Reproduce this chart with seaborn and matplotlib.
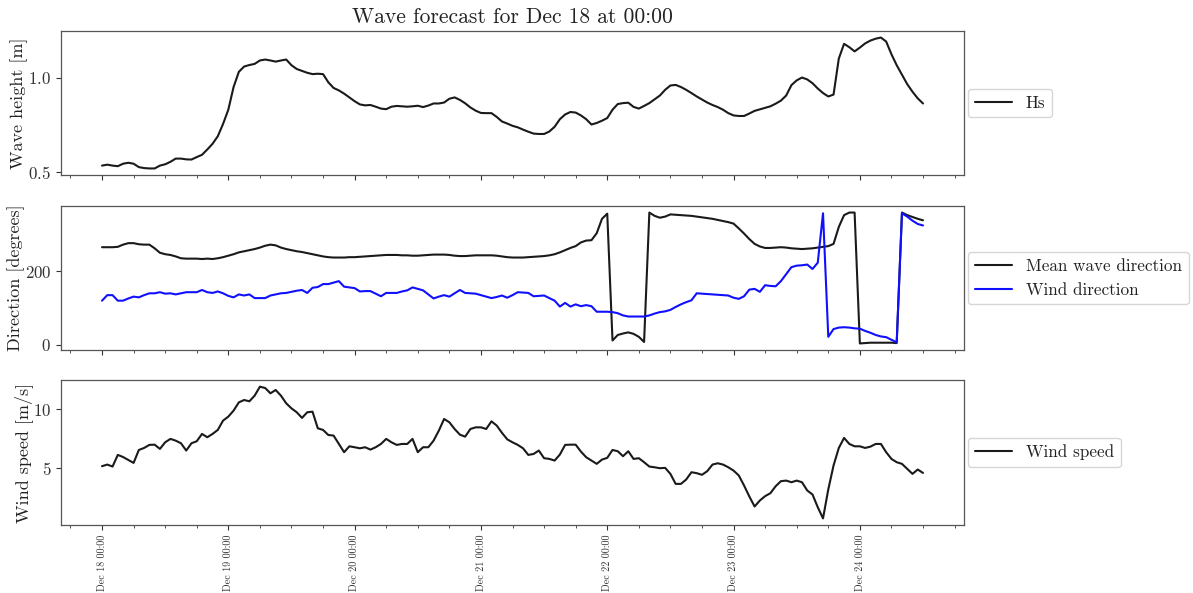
import numpy as np
import pandas as pd
import matplotlib
matplotlib.use("Agg")
import matplotlib.pyplot as plt
import matplotlib.dates as mdates
from matplotlib.ticker import MultipleLocator
import seaborn as sns

# ---------------- data (hourly, Dec 18 00:00 -> Dec 24 12:00) ----------------
start_time = "2023-12-18 00:00"
n_hours = 157

hs = [
    0.535, 0.540, 0.535, 0.532, 0.545, 0.550, 0.545, 0.527, 0.522, 0.520,
    0.520, 0.535, 0.542, 0.555, 0.572, 0.572, 0.568, 0.567, 0.580, 0.592,
    0.620, 0.650, 0.690, 0.755, 0.830, 0.950, 1.030, 1.058, 1.066, 1.072,
    1.090, 1.095, 1.090, 1.084, 1.090, 1.095, 1.065, 1.045, 1.035, 1.025,
    1.018, 1.020, 1.018, 0.975, 0.945, 0.932, 0.915, 0.895, 0.875, 0.858,
    0.853, 0.855, 0.846, 0.836, 0.833, 0.846, 0.850, 0.848, 0.846, 0.848,
    0.851, 0.844, 0.852, 0.863, 0.863, 0.868, 0.888, 0.895, 0.882, 0.864,
    0.842, 0.825, 0.813, 0.812, 0.812, 0.792, 0.768, 0.757, 0.745, 0.737,
    0.725, 0.714, 0.704, 0.702, 0.702, 0.715, 0.740, 0.780, 0.805, 0.818,
    0.815, 0.800, 0.780, 0.752, 0.760, 0.772, 0.786, 0.830, 0.860, 0.865,
    0.867, 0.845, 0.836, 0.850, 0.865, 0.885, 0.905, 0.935, 0.958, 0.961,
    0.950, 0.935, 0.918, 0.900, 0.884, 0.868, 0.855, 0.844, 0.830, 0.812,
    0.800, 0.797, 0.797, 0.810, 0.824, 0.832, 0.840, 0.848, 0.862, 0.878,
    0.905, 0.960, 0.985, 1.000, 0.990, 0.970, 0.942, 0.918, 0.900, 0.910,
    1.100, 1.178, 1.160, 1.138, 1.158, 1.180, 1.195, 1.205, 1.211, 1.190,
    1.123, 1.065, 1.015, 0.965, 0.925, 0.890, 0.863,
]

wave_dir = [
    265, 265, 265, 266, 272, 276, 276, 273, 272, 272,
    262, 250, 246, 244, 240, 235, 234, 234, 234, 233,
    234, 233, 235, 238, 242, 246, 251, 254, 257, 260,
    264, 269, 272, 270, 264, 260, 257, 254, 252, 249,
    246, 243, 240, 238, 237, 237, 237, 238, 238, 239,
    240, 241, 242, 243, 244, 244, 244, 243, 243, 242,
    242, 243, 244, 245, 245, 245, 244, 242, 241, 241,
    242, 243, 243, 243, 243, 242, 240, 238, 237, 237,
    237, 238, 239, 240, 241, 243, 246, 251, 257, 263,
    268, 278, 283, 284, 303, 342, 356, 12, 27, 31,
    34, 30, 22, 8, 359, 350, 345, 348, 354, 353,
    352, 351, 350, 348, 346, 344, 342, 339, 336, 333,
    329, 316, 302, 287, 274, 267, 263, 263, 264, 265,
    264, 262, 261, 260, 261, 262, 264, 266, 268, 274,
    320, 352, 359, 359, 4, 5, 6, 6, 6, 6,
    6, 5, 359, 352, 347, 342, 338,
]

wind_dir = [
    120, 135, 135, 120, 120, 126, 131, 129, 135, 140,
    140, 143, 139, 140, 137, 140, 143, 143, 143, 149,
    143, 141, 145, 140, 133, 129, 137, 134, 137, 127,
    127, 127, 134, 137, 140, 141, 144, 147, 149, 141,
    155, 157, 165, 165, 169, 173, 158, 156, 154, 145,
    146, 146, 139, 132, 141, 141, 141, 145, 148, 156,
    152, 148, 137, 126, 131, 135, 131, 140, 149, 141,
    140, 139, 135, 131, 127, 130, 134, 128, 135, 143,
    142, 141, 132, 133, 134, 127, 120, 104, 114, 104,
    110, 105, 108, 105, 90, 90, 90, 89, 86, 80,
    77, 77, 77, 77, 80, 85, 89, 91, 95, 103,
    110, 116, 121, 140, 139, 138, 137, 136, 135, 134,
    128, 125, 132, 150, 152, 144, 162, 160, 159, 173,
    192, 211, 215, 216, 218, 206, 223, 357, 22, 43,
    47, 48, 47, 45, 44, 38, 33, 27, 23, 21,
    14, 7, 357, 348, 337, 328, 324,
]

wind_speed = [
    5.17, 5.31, 5.14, 6.13, 5.95, 5.70, 5.45, 6.55, 6.72, 6.98,
    7.00, 6.64, 7.20, 7.49, 7.34, 7.12, 6.50, 7.12, 7.29, 7.91,
    7.63, 7.91, 8.25, 9.04, 9.38, 9.89, 10.59, 10.79, 10.68, 11.16,
    11.92, 11.81, 11.36, 11.64, 11.16, 10.51, 10.08, 9.75, 9.27, 9.75,
    9.80, 8.39, 8.25, 7.82, 7.77, 7.06, 6.36, 6.86, 6.78, 6.69,
    6.78, 6.58, 6.78, 7.06, 7.49, 7.20, 6.98, 7.06, 7.06, 7.49,
    6.36, 6.78, 6.78, 7.34, 8.19, 9.18, 8.90, 8.33, 7.85, 7.68,
    8.33, 8.47, 8.47, 8.33, 8.98, 8.62, 8.00, 7.45, 7.20, 6.98,
    6.69, 6.13, 6.21, 6.50, 5.85, 5.79, 5.65, 6.16, 6.98, 7.00,
    7.00, 6.41, 5.93, 5.65, 5.37, 5.73, 5.88, 6.55, 6.44, 6.02,
    6.44, 5.79, 5.85, 5.51, 5.14, 5.08, 5.00, 5.03, 4.52, 3.67,
    3.67, 4.04, 4.66, 4.58, 4.44, 4.75, 5.31, 5.42, 5.31, 5.08,
    4.80, 4.38, 3.53, 2.60, 1.75, 2.26, 2.63, 2.88, 3.47, 3.90,
    3.95, 3.81, 3.95, 3.81, 3.11, 2.77, 1.69, 0.74, 3.20, 5.23,
    6.72, 7.57, 7.06, 6.86, 6.86, 6.72, 6.83, 7.06, 7.06, 6.36,
    5.79, 5.51, 5.37, 4.94, 4.52, 4.89, 4.60,
]

title = "Wave forecast for Dec 18 at 00:00"
ylabels = ["Wave height [m]", "Direction [degrees]", "Wind speed [m/s]"]

# ---------------- style ----------------
sns.set_style("ticks")
plt.rcParams["font.family"] = ["cmr10", "DejaVu Serif"]
plt.rcParams["mathtext.fontset"] = "cm"
plt.rcParams["axes.formatter.use_mathtext"] = True
plt.rcParams["axes.unicode_minus"] = False
plt.rcParams["axes.edgecolor"] = "#555555"
plt.rcParams["xtick.color"] = "#333333"
plt.rcParams["ytick.color"] = "#333333"
plt.rcParams["text.color"] = "#222222"
plt.rcParams["axes.labelcolor"] = "#222222"
plt.rcParams["xtick.major.size"] = 3.5
plt.rcParams["ytick.major.size"] = 3.5
plt.rcParams["xtick.minor.size"] = 2
plt.rcParams["axes.linewidth"] = 0.9

times = pd.date_range(start_time, periods=n_hours, freq="h")
df = pd.DataFrame({
    "time": times,
    "Hs": hs,
    "Mean wave direction": wave_dir,
    "Wind direction": wind_dir,
    "Wind speed": wind_speed,
})

fig = plt.figure(figsize=(11.93, 5.93), dpi=100)
L, W = 0.0511, 0.757
ax0 = fig.add_axes([L, 0.7049, W, 0.2428])
ax1 = fig.add_axes([L, 0.4098, W, 0.2428], sharex=ax0)
ax2 = fig.add_axes([L, 0.1147, W, 0.2443], sharex=ax0)

lw = 1.5
sns.lineplot(data=df, x="time", y="Hs", ax=ax0, color="#1a1a1a", lw=lw, label="Hs")
sns.lineplot(data=df, x="time", y="Mean wave direction", ax=ax1, color="#1a1a1a", lw=lw,
             label="Mean wave direction")
sns.lineplot(data=df, x="time", y="Wind direction", ax=ax1, color="#1010ff", lw=lw,
             label="Wind direction")
sns.lineplot(data=df, x="time", y="Wind speed", ax=ax2, color="#1a1a1a", lw=lw, label="Wind speed")

ax0.yaxis.set_major_locator(MultipleLocator(0.5))
ax1.yaxis.set_major_locator(MultipleLocator(200))
ax2.yaxis.set_major_locator(MultipleLocator(5))

for ax, lab in zip([ax0, ax1, ax2], ylabels):
    ax.set_ylabel(lab, fontsize=13, labelpad=0)
    ax.set_xlabel("")
    ax.tick_params(axis="y", labelsize=12.2)
    ax.legend(loc="center left", bbox_to_anchor=(1.004, 0.5), borderaxespad=0,
              fontsize=12.3, frameon=True, handlelength=2.2)
    for s in ax.spines.values():
        s.set_visible(True)

ax2.xaxis.set_major_locator(mdates.DayLocator())
ax2.xaxis.set_minor_locator(mdates.HourLocator(byhour=range(0, 24, 6)))
ax2.xaxis.set_major_formatter(mdates.DateFormatter("%b %d %H:%M"))
ax0.tick_params(axis="x", which="both", labelbottom=False)
ax1.tick_params(axis="x", which="both", labelbottom=False)
ax2.tick_params(axis="x", which="major", labelsize=7.3, labelrotation=90)

ax0.set_title(title, fontsize=15.5)

fig.savefig("out.png", dpi=100)
